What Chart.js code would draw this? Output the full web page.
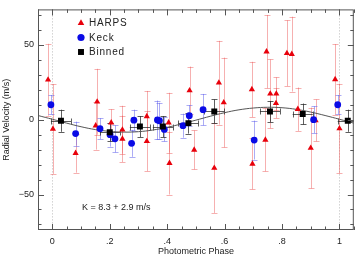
<!DOCTYPE html>
<html>
<head>
<meta charset="utf-8">
<script src="https://cdn.jsdelivr.net/npm/chart.js@4.4.1/dist/chart.umd.min.js"></script>
<style>
  html, body { margin: 0; padding: 0; background: #fff; }
  #wrap { width: 358px; height: 257px; }
</style>
</head>
<body>
<div id="wrap"><canvas id="rvChart" width="358" height="257"></canvas></div>
<script>
// HARPS radial velocities (phase, m/s, 1-sigma error)
const harpsPhase = [-0.015, 0.002, 0.081, 0.151, 0.156, 0.205, 0.244, 0.244, 0.329, 0.329, 0.405, 0.408, 0.478, 0.494, 0.580, 0.564, 0.597, 0.695, 0.697, 0.746, 0.742, 0.759, 0.780, 0.779, 0.817, 0.834, 0.855, 0.900, 0.917, 0.985, 1.000];
const harpsRv    = [26.7, -6.2, -22.4, -4, 12, -2, -6.7, -12.8, 2.2, -14.4, -2, -29, 19.5, -20.2, 24.7, -32.3, 11.5, 20.2, -29.5, 45.5, -13.5, 17.3, 17.3, 11, 44.4, 43.8, 7, -18.9, -0.5, 26.9, -5.9];
const harpsErr   = [24, 30, 13, 16, 22, 9, 16, 15.5, 17, 20, 20, 21, 16, 13, 28, 30, 30, 18.5, 17, 24.5, 21, 23, 11, 10, 22, 25, 14.5, 27, 14, 23.6, 30];

// Keck radial velocities
const keckPhase = [-0.005, 0.081, 0.166, 0.201, 0.218, 0.276, 0.284, 0.366, 0.373, 0.390, 0.455, 0.477, 0.525, 0.703, 0.910, 0.994];
const keckRv    = [10, -9.3, -6, -10, -12.8, -15.8, -0.3, -0.2, -0.7, -6.5, -4, 2.7, 6.7, -13.6, 0, 10];
const keckErr   = [6.5, 8, 7, 8, 9, 9, 7, 13, 12, 8, 8, 7, 10.5, 13, 9, 6.5];

// Phase-binned averages
const binPhase    = [0.030, 0.200, 0.305, 0.385, 0.474, 0.564, 0.758, 0.872, 1.029];
const binRv       = [-0.7, -8.4, -4.6, -4.6, -2.3, 5.5, 5.5, 3.8, -0.7];
const binErr      = [7.4, 6, 7, 7, 7, 8, 7, 7, 7.4];
const binPhaseErr = [0.035, 0.035, 0.035, 0.035, 0.035, 0.035, 0.035, 0.035, 0.035];

// Fitted curve (K = 8.3 m/s)
const modelPhase = [-0.05, 0, 0.05, 0.1, 0.15, 0.2, 0.25, 0.3, 0.35, 0.4, 0.45, 0.5, 0.55, 0.6, 0.65, 0.7, 0.75, 0.8, 0.85, 0.9, 0.95, 1.0, 1.05];
const modelRv    = [2.8, 0.3, -2.3, -4.7, -6.6, -7.8, -8.3, -8.0, -6.9, -5.1, -2.8, -0.3, 2.3, 4.7, 6.6, 7.8, 8.3, 8.0, 6.9, 5.1, 2.8, 0.3, -2.3];

// Axis ticks
const xTickValues = [0, 0.2, 0.4, 0.6, 0.8, 1];
const xTickLabels = ["0", ".2", ".4", ".6", ".8", "1"];
const yTickValues = [-50, 0, 50];
const yTickLabels = ["\u221250", "0", "50"];

const fontFamily = "'Liberation Sans', Arial, Helvetica, sans-serif";
Chart.defaults.font.family = fontFamily;
Chart.defaults.color = "#222";

function toPoints(xs, ys) {
    return xs.map((x, i) => ({ x: x, y: ys[i] }));
}

// Error bars, dotted phase guides, frame and inward ticks
const decorPlugin = {
    id: "decor",
    beforeDatasetsDraw(chart) {
        const ctx = chart.ctx;
        const xs = chart.scales.x, ys = chart.scales.y;
        const area = chart.chartArea;

        // dotted lines at phase 0 and 1
        ctx.save();
        ctx.strokeStyle = "#bbb";
        ctx.lineWidth = 1;
        ctx.setLineDash([1, 2]);
        [0, 1].forEach(v => {
            const px = Math.round(xs.getPixelForValue(v)) + 0.5;
            ctx.beginPath();
            ctx.moveTo(px, area.top);
            ctx.lineTo(px, area.bottom);
            ctx.stroke();
        });
        ctx.restore();

        ctx.save();
        ctx.beginPath();
        ctx.rect(area.left, area.top, area.right - area.left, area.bottom - area.top);
        ctx.clip();
        chart.data.datasets.forEach(ds => {
            if (!ds.yErr) return;
            ctx.strokeStyle = ds.errColor;
            ctx.lineWidth = 1;
            ds.data.forEach((p, j) => {
                const px = Math.round(xs.getPixelForValue(p.x)) + 0.5;
                const py = ys.getPixelForValue(p.y);
                const top = ys.getPixelForValue(p.y + ds.yErr[j]);
                const bot = ys.getPixelForValue(p.y - ds.yErr[j]);
                ctx.beginPath();
                ctx.moveTo(px, top); ctx.lineTo(px, bot);
                ctx.moveTo(px - 3, Math.round(top) + 0.5); ctx.lineTo(px + 3, Math.round(top) + 0.5);
                ctx.moveTo(px - 3, Math.round(bot) + 0.5); ctx.lineTo(px + 3, Math.round(bot) + 0.5);
                if (ds.xErr) {
                    const l = xs.getPixelForValue(p.x - ds.xErr[j]);
                    const r = xs.getPixelForValue(p.x + ds.xErr[j]);
                    const yy = Math.round(py) + 0.5;
                    ctx.moveTo(l, yy); ctx.lineTo(r, yy);
                    ctx.moveTo(Math.round(l) + 0.5, yy - 3); ctx.lineTo(Math.round(l) + 0.5, yy + 3);
                    ctx.moveTo(Math.round(r) + 0.5, yy - 3); ctx.lineTo(Math.round(r) + 0.5, yy + 3);
                }
                ctx.stroke();
            });
        });
        ctx.restore();
    },
    afterDatasetsDraw(chart) {
        const ctx = chart.ctx;
        const xs = chart.scales.x, ys = chart.scales.y;
        const a = chart.chartArea;
        ctx.save();
        ctx.strokeStyle = "#555";
        ctx.lineWidth = 1;
        ctx.strokeRect(a.left + 0.5, a.top + 0.5, a.right - a.left - 1, a.bottom - a.top - 1);

        ctx.beginPath();
        // x ticks every 0.05, longer at 0.2
        for (let k = -1; k <= 21; k++) {
            const v = k * 0.05;
            const px = Math.round(xs.getPixelForValue(v)) + 0.5;
            const len = (k % 4 === 0) ? 6 : 3.5;
            ctx.moveTo(px, a.bottom); ctx.lineTo(px, a.bottom - len);
            ctx.moveTo(px, a.top); ctx.lineTo(px, a.top + len);
        }
        // y ticks every 10, longer at 50
        for (let v = -70; v <= 70; v += 10) {
            const py = Math.round(ys.getPixelForValue(v)) + 0.5;
            const len = (v % 50 === 0) ? 6 : 3.5;
            ctx.moveTo(a.left, py); ctx.lineTo(a.left + len, py);
            ctx.moveTo(a.right, py); ctx.lineTo(a.right - len, py);
        }
        ctx.stroke();
        ctx.restore();

        // legend
        const items = [
            { label: "HARPS", style: "triangle", color: "#e8000b", r: 3.8 },
            { label: "Keck", style: "circle", color: "#0a0ae6", r: 3.6 },
            { label: "Binned", style: "rect", color: "#000", r: 4.2 }
        ];
        ctx.save();
        ctx.font = "10px " + fontFamily;
        if ("letterSpacing" in ctx) ctx.letterSpacing = "0.8px";
        ctx.textBaseline = "middle";
        items.forEach((it, i) => {
            const cy = 23 + i * 14.5;
            ctx.fillStyle = it.color;
            ctx.strokeStyle = it.color;
            Chart.helpers.drawPoint(ctx, { pointStyle: it.style, radius: it.r, borderWidth: 0, rotation: 0 }, 81, cy);
            ctx.fillStyle = "#222";
            ctx.fillText(it.label, 89, cy + 0.5);
        });
        ctx.restore();

        // fitted semi-amplitude
        ctx.save();
        ctx.font = "9px " + fontFamily;
        ctx.fillStyle = "#222";
        ctx.textBaseline = "middle";
        ctx.fillText("K = 8.3 + 2.9 m/s", 82, 208);
        ctx.restore();
    }
};

const ctx = document.getElementById("rvChart").getContext("2d");
new Chart(ctx, {
    type: "scatter",
    data: {
        datasets: [
            {
                label: "Model",
                data: toPoints(modelPhase, modelRv),
                showLine: true,
                borderColor: "#555",
                borderWidth: 1,
                pointRadius: 0,
                tension: 0.4,
                fill: false,
                order: 4
            },
            {
                label: "HARPS",
                data: toPoints(harpsPhase, harpsRv),
                yErr: harpsErr,
                errColor: "rgba(235, 80, 80, 0.45)",
                pointStyle: "triangle",
                pointRadius: 3.6,
                pointBackgroundColor: "#e8000b",
                pointBorderWidth: 0,
                order: 3
            },
            {
                label: "Keck",
                data: toPoints(keckPhase, keckRv),
                yErr: keckErr,
                errColor: "rgba(90, 90, 235, 0.5)",
                pointStyle: "circle",
                pointRadius: 3.4,
                pointBackgroundColor: "#0a0ae6",
                pointBorderWidth: 0,
                order: 2
            },
            {
                label: "Binned",
                data: toPoints(binPhase, binRv),
                yErr: binErr,
                xErr: binPhaseErr,
                errColor: "rgba(40, 40, 40, 0.75)",
                pointStyle: "rect",
                pointRadius: 4.2,
                pointBackgroundColor: "#000",
                pointBorderWidth: 0,
                order: 1
            }
        ]
    },
    options: {
        responsive: false,
        devicePixelRatio: 1,
        animation: false,
        layout: { padding: { top: 9, right: 4, left: 0, bottom: 0 } },
        plugins: {
            legend: { display: false },
            tooltip: { enabled: false }
        },
        scales: {
            x: {
                type: "linear",
                min: -0.05,
                max: 1.05,
                grid: { display: false, drawTicks: false },
                border: { display: false },
                afterBuildTicks: scale => { scale.ticks = xTickValues.map(v => ({ value: v })); },
                afterFit: scale => { scale.height = 27; },
                ticks: {
                    padding: 6,
                    maxRotation: 0,
                    font: { size: 9 },
                    callback: (v, i) => xTickLabels[i]
                },
                title: {
                    display: true,
                    text: "Photometric Phase",
                    font: { size: 9 },
                    padding: { top: 0, bottom: 0 }
                }
            },
            y: {
                type: "linear",
                min: -73.7,
                max: 73.7,
                grid: { display: false, drawTicks: false },
                border: { display: false },
                afterBuildTicks: scale => { scale.ticks = yTickValues.map(v => ({ value: v })); },
                afterFit: scale => { scale.width = 38; },
                ticks: {
                    padding: 4,
                    font: { size: 9 },
                    callback: (v, i) => yTickLabels[i]
                },
                title: {
                    display: true,
                    text: "Radial Velocity (m/s)",
                    font: { size: 9 },
                    padding: { top: 1, bottom: 0 }
                }
            }
        }
    },
    plugins: [decorPlugin]
});
</script>
</body>
</html>
